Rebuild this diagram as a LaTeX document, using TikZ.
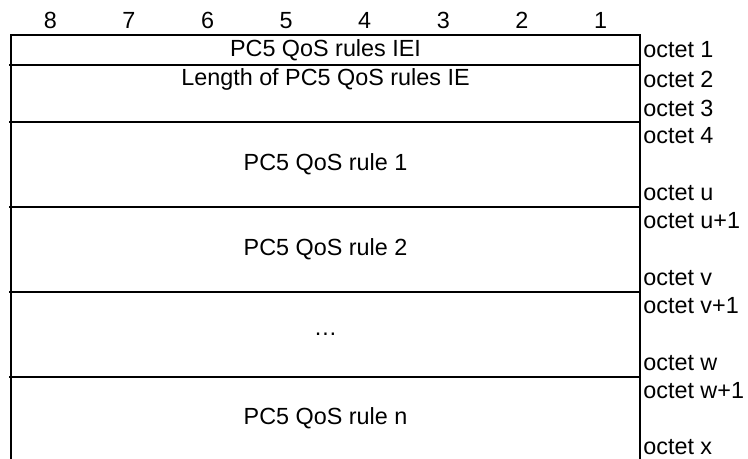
\documentclass[tikz,border=0pt]{standalone}
\usepackage{fontspec}
\setmainfont{Liberation Sans}
\begin{document}
\begin{tikzpicture}[x=0.02cm,y=-0.02cm,
  rule/.style={line width=1pt},
  cell/.style={font=\fontsize{13.3}{16}\selectfont,inner sep=0pt},
  bitno/.style={cell,anchor=base},
  octet/.style={cell,anchor=west},
]
\useasboundingbox (0,0) rectangle (748,459);
% bit numbers
\foreach \n [count=\i] in {8,7,6,5,4,3,2,1}
  \node[bitno] (bit\n) at ({11+78.6*(\i-0.5)},28.5) {\n};
% frame, open at the bottom
\draw[rule] (11,459) -- (11,35) -- (640,35) -- (640,459);
\foreach \y in {65,122,207,292,377}
  \draw[rule] (9,\y) -- (640,\y);
% fields
\node[cell] (iei) at (325.5,50) {PC5 QoS rules IEI};
\node[cell] (len) at (325.5,79) {Length of PC5 QoS rules IE};
\node[cell] (rule1) at (325.5,164.5) {PC5 QoS rule 1};
\node[cell] (rule2) at (325.5,249.5) {PC5 QoS rule 2};
\node[cell] (dots) at (325.5,334.5) {\dots};
\node[cell] (rulen) at (325.5,418) {PC5 QoS rule n};
% octet numbers
\foreach \y/\t [count=\i] in {50/1,79/2,108/3,136/4,193/u,221/u+1,278/v,306/v+1,363/w,391/w+1,447/x}
  \node[octet] (oct\i) at (643,\y) {octet \t};
\end{tikzpicture}
\end{document}
